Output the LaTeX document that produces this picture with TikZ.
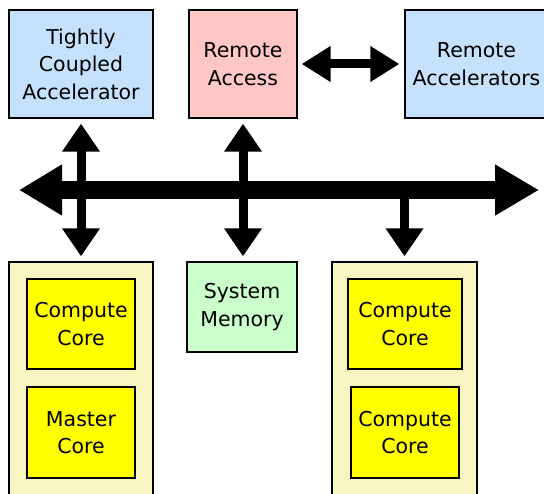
\documentclass[tikz,border=0pt]{standalone}
\usepackage{fontspec}
\setmainfont{DejaVu Sans}
\usetikzlibrary{arrows.meta}

\definecolor{accblue}{HTML}{C6E1FC}
\definecolor{accpink}{HTML}{FFC6C6}
\definecolor{memgreen}{HTML}{CAFECA}
\definecolor{colfill}{HTML}{F7F6C2}
\definecolor{corefill}{HTML}{FFFF00}

\tikzset{
  unit/.style={draw=black, line width=1.3pt, align=center, inner sep=0pt,
    font=\fontsize{20.5}{27.5}\selectfont},
  hub/.style={unit, fill=accblue},
  link/.style={unit, fill=accpink},
  mem/.style={unit, fill=memgreen},
  column/.style={draw=black, line width=1.3pt, fill=colfill, inner sep=0pt},
  core/.style={unit, fill=corefill},
  thinarrow/.style={line width=9pt,
    {Triangle[width=36pt,length=28pt]}-{Triangle[width=36pt,length=28pt]}},
  downarrow/.style={line width=9pt, -{Triangle[width=36pt,length=28pt]}},
  busarrow/.style={line width=18pt,
    {Triangle[width=48pt,length=43pt]}-{Triangle[width=48pt,length=44pt]}},
}

\begin{document}
\begin{tikzpicture}[x=1pt, y=-1pt]
  \useasboundingbox (0,0) rectangle (544,494);
  \clip (0,0) rectangle (544,494);

  % top row
  \node[hub, minimum width=144pt, minimum height=108pt] (tca) at (81,64)
    {Tightly\\Coupled\\Accelerator};
  \node[link, minimum width=108pt, minimum height=108pt] (ra) at (243,64)
    {Remote\\Access};
  \node[hub, minimum width=143pt, minimum height=108pt] (rac) at (476.5,64)
    {Remote\\Accelerators};

  % bottom row: processor columns and memory
  \node[column, minimum width=144pt, minimum height=238pt] (lcol) at (81,381) {};
  \node[core, minimum width=108pt, minimum height=90pt] (cc1) at (81,324)
    {Compute\\Core};
  \node[core, minimum width=108pt, minimum height=91pt] (mc) at (81,432.5)
    {Master\\Core};

  \node[mem, minimum width=110pt, minimum height=90pt] (sm) at (242,307)
    {System\\Memory};

  \node[column, minimum width=145pt, minimum height=238pt] (rcol) at (404.5,381) {};
  \node[core, minimum width=114pt, minimum height=90pt] (cc2) at (405,324)
    {Compute\\Core};
  \node[core, minimum width=108pt, minimum height=91pt] (cc3) at (405,432.5)
    {Compute\\Core};

  % system bus
  \coordinate (busL) at (19,190);
  \coordinate (busR) at (539,190);
  \coordinate (busJ) at (404.5,190);
  \draw[busarrow] (busL) -- (busR);

  % connections to the bus
  \draw[thinarrow, shorten <=5pt, shorten >=5pt] (tca.south) -- (lcol.north);
  \draw[thinarrow, shorten <=5pt, shorten >=5pt] (ra.south) -- (ra.south |- sm.north);
  \draw[downarrow, shorten >=5pt] (busJ) -- (rcol.north);

  % remote link
  \draw[line width=9pt,
    {Triangle[width=34pt,length=29pt]}-{Triangle[width=34pt,length=29pt]},
    shorten <=4pt, shorten >=5pt] (ra.east) -- (rac.west);
\end{tikzpicture}
\end{document}
